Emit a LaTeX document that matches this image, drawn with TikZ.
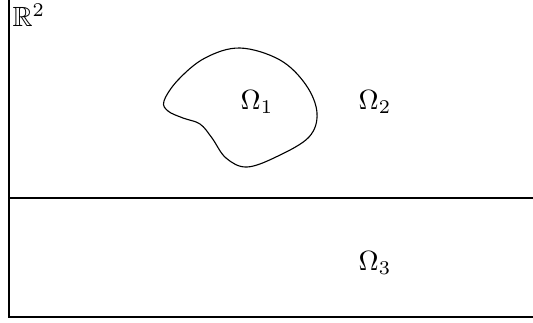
\documentclass[tikz,border=0pt]{standalone}
\usepackage{amssymb}
\begin{document}
\begin{tikzpicture}[x=0.36pt,y=-0.36pt,
  bound/.style={line width=0.4pt},
  lbl/.style={inner sep=0pt}]
\useasboundingbox (0,0) rectangle (533,322);
\coordinate (tl) at (9,0);
\coordinate (bl) at (9,317);
\coordinate (br) at (533,317);
\coordinate (ml) at (9,198);
\coordinate (mr) at (533,198);
\draw[bound] (tl) -- (bl) -- (br);
\draw[bound] (ml) -- (mr);
\draw[bound] plot[smooth cycle, tension=0.6] coordinates {(164,101) (178,80) (205,58) (240,48) (280,60) (306,85) (317,113) (309,137) (278,156) (247,167) (226,158) (212,138) (200,124) (183,118) (168,111)};
\node[lbl, anchor=north west] (r2) at (12,3) {$\mathbb{R}^2$};
\node[lbl] (o1) at (257,102) {$\Omega_1$};
\node[lbl] (o2) at (375,102) {$\Omega_2$};
\node[lbl] (o3) at (375,263) {$\Omega_3$};
\end{tikzpicture}
\end{document}
